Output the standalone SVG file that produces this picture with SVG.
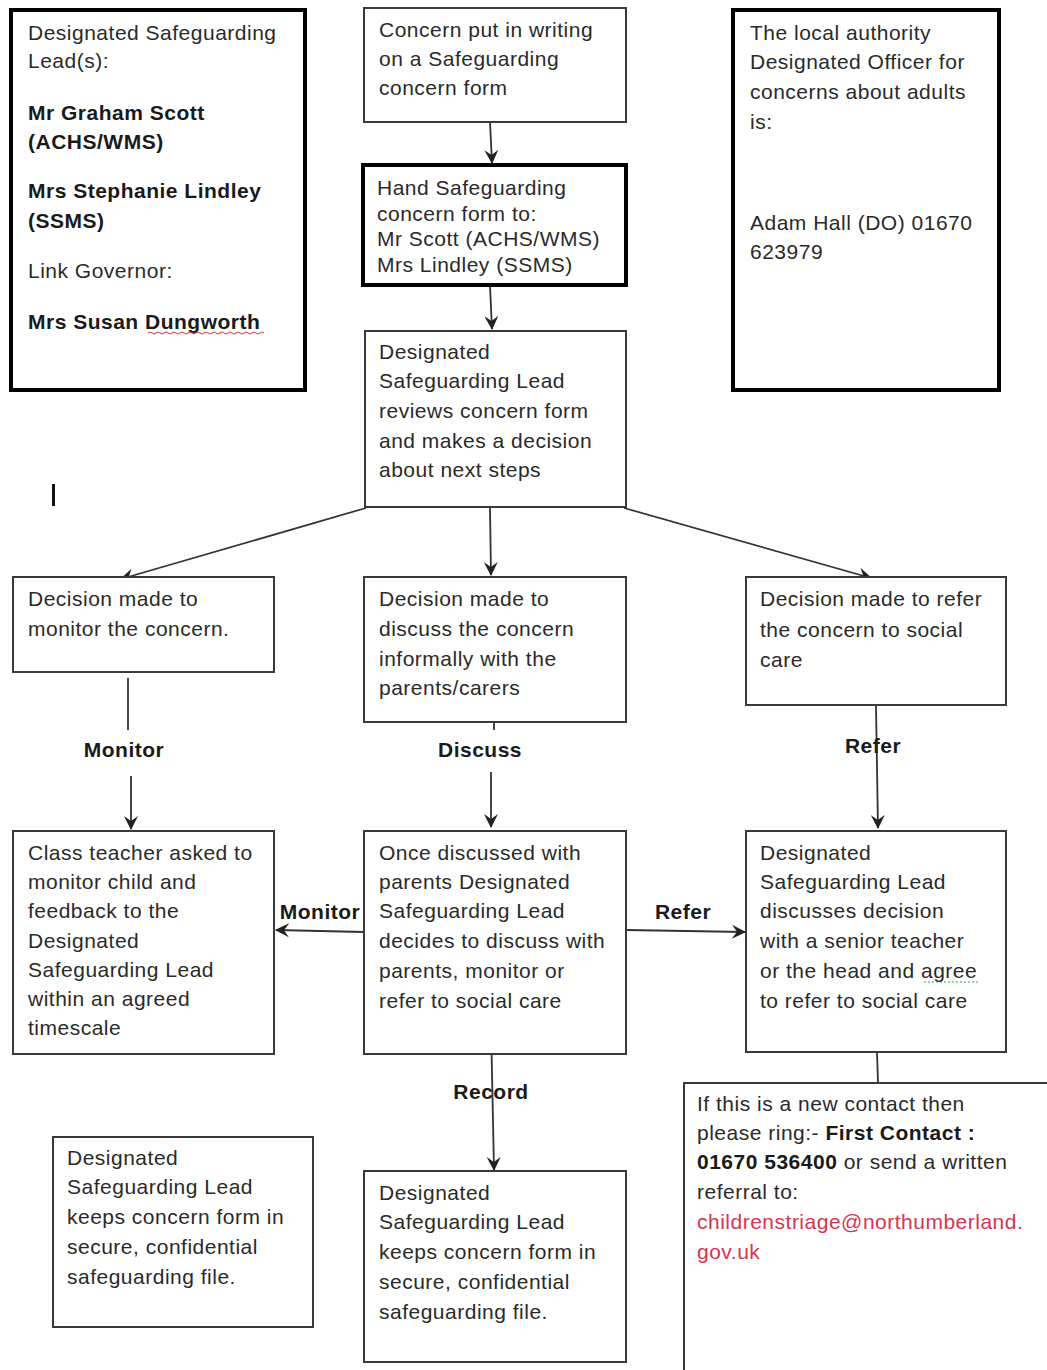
<svg xmlns="http://www.w3.org/2000/svg" width="1047" height="1370" viewBox="0 0 1047 1370">
<style>
text{font-family:"Liberation Sans",Arial,sans-serif;font-size:21px;letter-spacing:0.5px;fill:#2a2a2a}
.b{font-weight:bold;fill:#1a1a1a}
.lbl{font-weight:bold;fill:#1a1a1a;text-anchor:middle}
.red{fill:#d8344f}
.thin{fill:#fff;stroke:#3a3a3a;stroke-width:2}
.thick{fill:#fff;stroke:#000;stroke-width:4}
.con{stroke:#333;stroke-width:1.8;fill:none}
</style>
<defs>
<marker id="ah" viewBox="0 0 14 14" refX="13" refY="7" markerWidth="14" markerHeight="14" markerUnits="userSpaceOnUse" orient="auto">
<path d="M0,0 L14,7 L0,14 L5,7 Z" fill="#222"/>
</marker>
</defs>
<rect width="1047" height="1370" fill="#fff"/>

<g id="connectors">
<line class="con" x1="490" y1="122" x2="492" y2="163" marker-end="url(#ah)"/>
<line class="con" x1="490" y1="286" x2="492" y2="329" marker-end="url(#ah)"/>
<line class="con" x1="366" y1="508" x2="121" y2="579" marker-end="url(#ah)"/>
<line class="con" x1="490" y1="508" x2="491" y2="575" marker-end="url(#ah)"/>
<line class="con" x1="624" y1="508" x2="871" y2="578" marker-end="url(#ah)"/>
<line class="con" x1="128" y1="678" x2="128" y2="730"/>
<line class="con" x1="131" y1="776" x2="131" y2="829" marker-end="url(#ah)"/>
<line class="con" x1="494" y1="722" x2="494" y2="730"/>
<line class="con" x1="491" y1="772" x2="491" y2="827" marker-end="url(#ah)"/>
<line class="con" x1="876" y1="706" x2="878" y2="828" marker-end="url(#ah)"/>
<line class="con" x1="364" y1="932" x2="276" y2="930" marker-end="url(#ah)"/>
<line class="con" x1="626" y1="930" x2="745" y2="932" marker-end="url(#ah)"/>
<line class="con" x1="491" y1="1025" x2="494" y2="1170" marker-end="url(#ah)"/>
<line class="con" x1="877" y1="1053" x2="878" y2="1082"/>
<text class="lbl" x="124" y="757">Monitor</text>
<text class="lbl" x="480" y="757">Discuss</text>
<text class="lbl" x="873" y="753">Refer</text>
<text class="lbl" x="320" y="919">Monitor</text>
<text class="lbl" x="683" y="919">Refer</text>
<text class="lbl" x="491" y="1099">Record</text>
</g>

<g id="lead-box">
<rect class="thick" x="11" y="10" width="294" height="380"/>
<text x="28" y="40">Designated Safeguarding</text>
<text x="28" y="68">Lead(s):</text>
<text class="b" x="28" y="120">Mr Graham Scott</text>
<text class="b" x="28" y="149">(ACHS/WMS)</text>
<text class="b" x="28" y="198">Mrs Stephanie Lindley</text>
<text class="b" x="28" y="228">(SSMS)</text>
<text x="28" y="278">Link Governor:</text>
<text class="b" x="28" y="329">Mrs Susan Dungworth</text>
<path d="M148,333 q2,-2 4,0 t4,0 t4,0 t4,0 t4,0 t4,0 t4,0 t4,0 t4,0 t4,0 t4,0 t4,0 t4,0 t4,0 t4,0 t4,0 t4,0 t4,0 t4,0 t4,0 t4,0 t4,0 t4,0 t4,0 t4,0 t4,0 t4,0 t4,0 t4,0" fill="none" stroke="#e03030" stroke-width="1"/>
</g>

<g id="concern-box">
<rect class="thin" x="364" y="8" width="262" height="114"/>
<text x="379" y="37">Concern put in writing</text>
<text x="379" y="66">on a Safeguarding</text>
<text x="379" y="95">concern form</text>
</g>

<g id="hand-box">
<rect class="thick" x="363" y="165" width="263" height="120"/>
<text x="377" y="195">Hand Safeguarding</text>
<text x="377" y="221">concern form to:</text>
<text x="377" y="246">Mr Scott (ACHS/WMS)</text>
<text x="377" y="272">Mrs Lindley (SSMS)</text>
</g>

<g id="officer-box">
<rect class="thick" x="733" y="10" width="266" height="380"/>
<text x="750" y="40">The local authority</text>
<text x="750" y="69">Designated Officer for</text>
<text x="750" y="99">concerns about adults</text>
<text x="750" y="129">is:</text>
<text x="750" y="230">Adam Hall (DO) 01670</text>
<text x="750" y="259">623979</text>
</g>

<g id="cursor-mark">
<rect x="52" y="484" width="3" height="22" fill="#111"/>
</g>

<g id="review-box">
<rect class="thin" x="365" y="331" width="261" height="176"/>
<text x="379" y="359">Designated</text>
<text x="379" y="388">Safeguarding Lead</text>
<text x="379" y="418">reviews concern form</text>
<text x="379" y="448">and makes a decision</text>
<text x="379" y="477">about next steps</text>
</g>

<g id="monitor-decision">
<rect class="thin" x="13" y="577" width="261" height="95"/>
<text x="28" y="606">Decision made to</text>
<text x="28" y="636">monitor the concern.</text>
</g>

<g id="discuss-decision">
<rect class="thin" x="364" y="577" width="262" height="145"/>
<text x="379" y="606">Decision made to</text>
<text x="379" y="636">discuss the concern</text>
<text x="379" y="666">informally with the</text>
<text x="379" y="695">parents/carers</text>
</g>

<g id="refer-decision">
<rect class="thin" x="746" y="577" width="260" height="128"/>
<text x="760" y="606">Decision made to refer</text>
<text x="760" y="637">the concern to social</text>
<text x="760" y="667">care</text>
</g>

<g id="class-teacher">
<rect class="thin" x="13" y="831" width="261" height="223"/>
<text x="28" y="860">Class teacher asked to</text>
<text x="28" y="889">monitor child and</text>
<text x="28" y="918">feedback to the</text>
<text x="28" y="948">Designated</text>
<text x="28" y="977">Safeguarding Lead</text>
<text x="28" y="1006">within an agreed</text>
<text x="28" y="1035">timescale</text>
</g>

<g id="once-discussed">
<rect class="thin" x="364" y="831" width="262" height="223"/>
<text x="379" y="860">Once discussed with</text>
<text x="379" y="889">parents Designated</text>
<text x="379" y="918">Safeguarding Lead</text>
<text x="379" y="948">decides to discuss with</text>
<text x="379" y="978">parents, monitor or</text>
<text x="379" y="1008">refer to social care</text>
</g>

<g id="dsl-discusses">
<rect class="thin" x="746" y="831" width="260" height="221"/>
<text x="760" y="860">Designated</text>
<text x="760" y="889">Safeguarding Lead</text>
<text x="760" y="918">discusses decision</text>
<text x="760" y="948">with a senior teacher</text>
<text x="760" y="978">or the head and agree</text>
<text x="760" y="1008">to refer to social care</text>
<path d="M924,982 h56" fill="none" stroke="#4a9a4a" stroke-width="1.2" stroke-dasharray="2,2"/>
</g>

<g id="first-contact">
<path d="M684,1370 V1083 H1047" class="thin"/>
<text x="697" y="1111">If this is a new contact then</text>
<text x="697" y="1140">please ring:- <tspan class="b">First Contact :</tspan></text>
<text x="697" y="1169"><tspan class="b">01670 536400</tspan> or send a written</text>
<text x="697" y="1199">referral to:</text>
<text class="red" x="697" y="1229">childrenstriage@northumberland.</text>
<text class="red" x="697" y="1259">gov.uk</text>
</g>

<g id="keeps-left">
<rect class="thin" x="53" y="1137" width="260" height="190"/>
<text x="67" y="1165">Designated</text>
<text x="67" y="1194">Safeguarding Lead</text>
<text x="67" y="1224">keeps concern form in</text>
<text x="67" y="1254">secure, confidential</text>
<text x="67" y="1284">safeguarding file.</text>
</g>

<g id="keeps-right">
<rect class="thin" x="364" y="1171" width="262" height="191"/>
<text x="379" y="1200">Designated</text>
<text x="379" y="1229">Safeguarding Lead</text>
<text x="379" y="1259">keeps concern form in</text>
<text x="379" y="1289">secure, confidential</text>
<text x="379" y="1319">safeguarding file.</text>
</g>
</svg>
